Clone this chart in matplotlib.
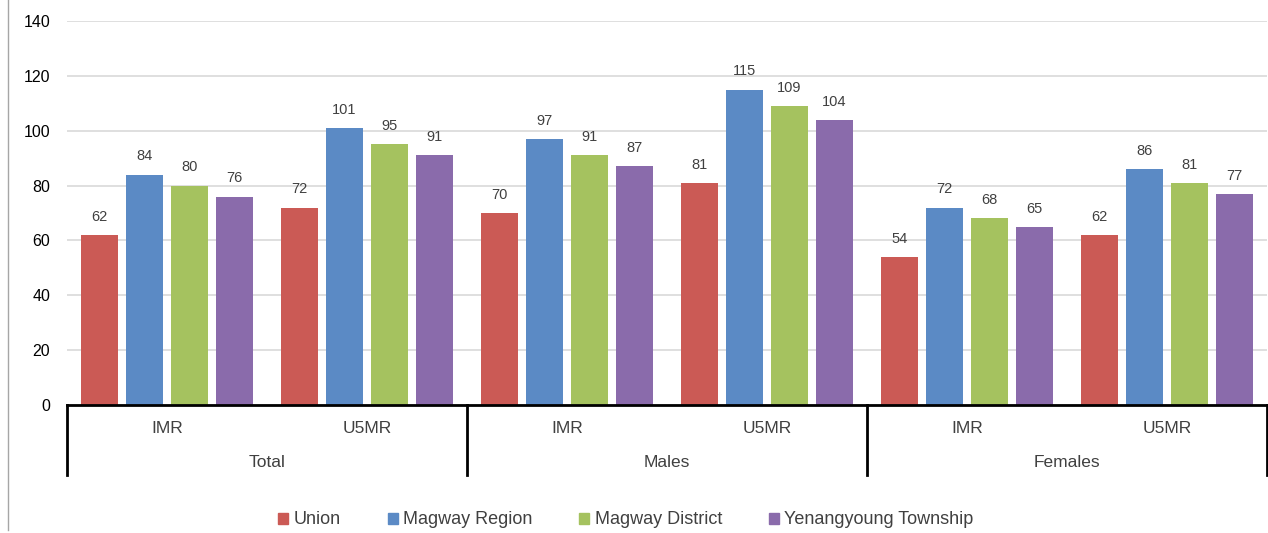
import matplotlib
matplotlib.use("Agg")
import matplotlib.pyplot as plt
from matplotlib.lines import Line2D
from matplotlib.patches import Patch
import numpy as np

groups = ["Total", "Males", "Females"]
measures = ["IMR", "U5MR"]
series_names = ["Union", "Magway Region", "Magway District", "Yenangyoung Township"]
union = [62, 72, 70, 81, 54, 62]
magway_region = [84, 101, 97, 115, 72, 86]
magway_district = [80, 95, 91, 109, 68, 81]
yenangyoung = [76, 91, 87, 104, 65, 77]
colors = ["#CB5A55", "#5B8AC5", "#A5C25F", "#8A6BAB"]
yticks = [0, 20, 40, 60, 80, 100, 120, 140]

plt.rcParams['font.family'] = ['Liberation Sans', 'DejaVu Sans']
fig = plt.figure(figsize=(12.68, 5.33), dpi=100)
ax = fig.add_axes([67/1268, 1-405/533, 1200/1268, 384/533])

data = [union, magway_region, magway_district, yenangyoung]
x = np.arange(6)
step = 0.225
width = 0.185
text_col = "#404040"
for i, (vals, c) in enumerate(zip(data, colors)):
    pos = x + (i - 1.5) * step
    ax.bar(pos, vals, width=width, color=c, zorder=3)
    for p, v in zip(pos, vals):
        ax.annotate(str(v), (p, v), xytext=(0, 8), textcoords="offset points",
                    ha="center", va="bottom", fontsize=10.5, color=text_col)

ax.set_xlim(-0.5, 5.5)
ax.set_ylim(0, 140)
ax.set_yticks(yticks)
ax.tick_params(axis='y', length=0, labelsize=11.5, labelcolor="#000000", pad=12)
ax.yaxis.grid(True, color="#D9D9D9", linewidth=1.2, zorder=0)
ax.set_xticks([])
for s in ["top", "right", "left"]:
    ax.spines[s].set_visible(False)
ax.spines["bottom"].set_linewidth(2)
ax.spines["bottom"].set_zorder(4)

trans = ax.get_xaxis_transform()
for k in range(6):
    ax.text(k, -0.06, measures[k % 2], transform=trans, ha="center", va="center",
            fontsize=12.5, color=text_col)
for g, name in enumerate(groups):
    ax.text(2 * g + 0.5, -0.151, name, transform=trans, ha="center", va="center",
            fontsize=12.5, color=text_col)
for b in [-0.5, 1.5, 3.5, 5.5]:
    ax.add_line(Line2D([b, b], [0, -0.182], transform=trans, color="black",
                       linewidth=2, clip_on=False))

handles = [Patch(color=c) for c in colors]
fig.legend(handles, series_names, loc="center", bbox_to_anchor=(626/1268, 1-520/533),
           ncol=4, frameon=False, fontsize=13, handlelength=0.55, handleheight=0.55,
           handletextpad=0.3, columnspacing=2.6, labelcolor=text_col)

fig.add_artist(Line2D([8/1268, 8/1268], [1-530/533, 1], transform=fig.transFigure,
                      color="#A6A6A6", linewidth=1))

fig.savefig("out.png", dpi=100)
